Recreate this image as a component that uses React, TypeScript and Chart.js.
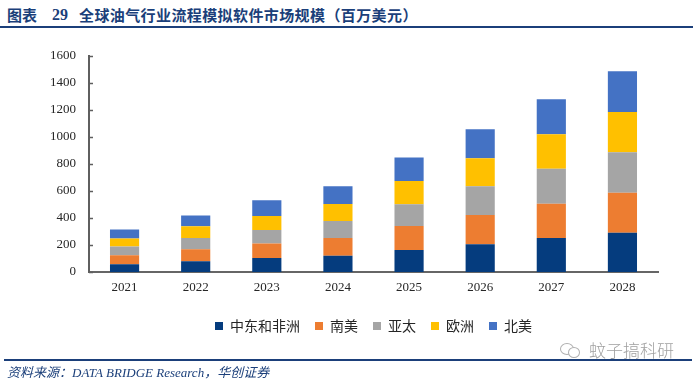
import React, { useEffect, useRef } from "react";
import { Chart, registerables } from "chart.js";

Chart.register(...registerables);

const years = ["2021", "2022", "2023", "2024", "2025", "2026", "2027", "2028"];
const middleEastAfrica = [57, 79, 104, 121, 163, 205, 252, 291];
const southAmerica = [67, 89, 106, 131, 178, 217, 254, 296];
const asiaPacific = [64, 84, 101, 126, 160, 212, 259, 299];
const europe = [59, 86, 104, 126, 173, 207, 254, 299];
const northAmerica = [67, 81, 116, 131, 173, 215, 259, 301];
const seriesNames = ["中东和非洲", "南美", "亚太", "欧洲", "北美"];
const seriesColors = ["#053C7E", "#ED7D31", "#A5A5A5", "#FFC000", "#4472C4"];
const yMin = 0;
const yMax = 1600;
const yStep = 200;

const titleColor = "#1B3F7A";

export default function App() {
  const ref = useRef<HTMLCanvasElement>(null);

  useEffect(() => {
    if (!ref.current) return;
    const innerTicks = {
      id: "innerTicks",
      afterDatasetsDraw(chart: any) {
        const y = chart.scales.y;
        const ctx = chart.ctx;
        ctx.save();
        ctx.strokeStyle = "#5f5f5f";
        ctx.lineWidth = 1.5;
        y.ticks.forEach((t: any) => {
          const py = Math.round(y.getPixelForValue(t.value)) + 0.5;
          ctx.beginPath();
          ctx.moveTo(y.right, py);
          ctx.lineTo(y.right + 4, py);
          ctx.stroke();
        });
        ctx.restore();
      },
    };
    const values = [middleEastAfrica, southAmerica, asiaPacific, europe, northAmerica];
    const chart = new Chart(ref.current, {
      type: "bar",
      data: {
        labels: years,
        datasets: values.map((v, i) => ({
          label: seriesNames[i],
          data: v,
          backgroundColor: seriesColors[i],
          borderWidth: 0,
          barPercentage: 0.41,
          categoryPercentage: 1,
        })),
      },
      options: {
        animation: false,
        responsive: false,
        maintainAspectRatio: false,
        layout: { padding: { top: 15, right: 42, left: 0, bottom: 3 } },
        plugins: {
          tooltip: { enabled: false },
          legend: {
            position: "bottom",
            fullSize: false,
            labels: {
              boxWidth: 8,
              boxHeight: 8,
              padding: 15,
              color: "#262626",
              font: { family: "'Noto Sans CJK SC'", size: 14 },
            },
          },
        },
        scales: {
          x: {
            stacked: true,
            grid: { display: false, drawTicks: false },
            border: { display: true, color: "#666666", width: 2 },
            ticks: {
              padding: 8,
              color: "#262626",
              font: { family: "'Liberation Serif'", size: 13 },
            },
            afterFit: (s: any) => {
              s.height = 32;
            },
          },
          y: {
            stacked: true,
            min: yMin,
            max: yMax,
            grid: { display: false, drawTicks: false },
            border: { display: true, color: "#5f5f5f", width: 2 },
            ticks: {
              stepSize: yStep,
              padding: 13,
              color: "#262626",
              font: { family: "'Liberation Serif'", size: 13 },
              callback: (v: any) => String(v),
            },
            afterFit: (s: any) => {
              s.width = 89;
            },
          },
        },
      },
      plugins: [innerTicks],
    } as any);
    return () => chart.destroy();
  }, []);

  return (
    <div
      style={{
        position: "absolute",
        left: 0,
        top: 0,
        width: 700,
        height: 382,
        background: "#fff",
        overflow: "hidden",
      }}
    >
      <div
        style={{
          position: "absolute",
          left: 0,
          top: 5,
          height: 20,
          lineHeight: "20px",
          fontSize: 15,
          fontWeight: 700,
          color: titleColor,
          fontFamily: "'Noto Sans CJK SC', sans-serif",
          whiteSpace: "nowrap",
        }}
      >
        <span style={{ position: "absolute", left: 7 }}>图表</span>
        <span style={{ position: "absolute", left: 52, fontFamily: "'Liberation Serif', serif", fontSize: 16 }}>29</span>
        <span style={{ position: "absolute", left: 79, letterSpacing: 0.4 }}>
          全球油气行业流程模拟软件市场规模（百万美元）
        </span>
      </div>
      <div
        style={{
          position: "absolute",
          left: 0,
          top: 26,
          width: 693,
          height: 2,
          background: titleColor,
        }}
      />
      <canvas
        ref={ref}
        width={700}
        height={311}
        style={{ position: "absolute", left: 0, top: 35, width: 700, height: 311 }}
      />
      <div
        style={{
          position: "absolute",
          left: 560,
          top: 343,
          width: 12,
          height: 10,
          border: "1.5px solid #b0b0b0",
          borderRadius: "50%",
        }}
      />
      <div
        style={{
          position: "absolute",
          left: 568,
          top: 347,
          width: 10,
          height: 9,
          border: "1.5px solid #b0b0b0",
          borderRadius: "50%",
          background: "#fff",
        }}
      />
      <div
        style={{
          position: "absolute",
          left: 589,
          top: 340,
          lineHeight: "20px",
          fontSize: 17,
          color: "#a0a0a0",
          fontFamily: "'Noto Sans CJK SC', sans-serif",
          fontWeight: 300,
          whiteSpace: "nowrap",
        }}
      >
        蚊子搞科研
      </div>
      <div
        style={{
          position: "absolute",
          left: 4,
          top: 359,
          width: 688,
          height: 2,
          background: titleColor,
        }}
      />
      <div
        style={{
          position: "absolute",
          left: 7,
          top: 364,
          lineHeight: "17px",
          fontSize: 13,
          fontStyle: "italic",
          color: titleColor,
          fontFamily: "'Liberation Serif', 'Noto Sans CJK SC', serif",
          whiteSpace: "nowrap",
        }}
      >
        资料来源：DATA BRIDGE Research，华创证券
      </div>
    </div>
  );
}
